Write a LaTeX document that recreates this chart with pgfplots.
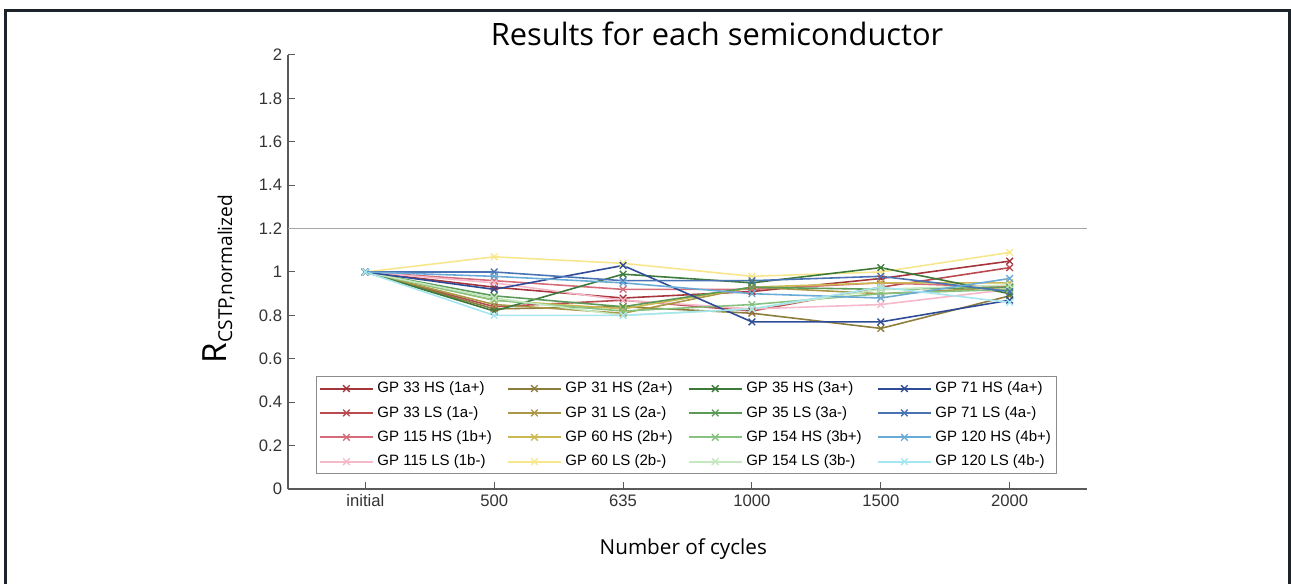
\documentclass[border=0pt]{standalone}
\usepackage{pgfplots}
\pgfplotsset{compat=1.18}
\usepackage{fontspec}
\setmainfont{Liberation Sans}
\newfontfamily\labelfont{Open Sans}

% series colours: red / olive / green / blue families, dark to light
\definecolor{r1}{HTML}{A4353B}
\definecolor{r2}{HTML}{B84A50}
\definecolor{r3}{HTML}{D46C7A}
\definecolor{r4}{HTML}{F6B9CA}
\definecolor{o1}{HTML}{8C7D3C}
\definecolor{o2}{HTML}{A99848}
\definecolor{o3}{HTML}{CDB952}
\definecolor{o4}{HTML}{F7E68C}
\definecolor{g1}{HTML}{3C7A3A}
\definecolor{g2}{HTML}{5C9A58}
\definecolor{g3}{HTML}{88C280}
\definecolor{g4}{HTML}{C6E8C0}
\definecolor{b1}{HTML}{2E4B96}
\definecolor{b2}{HTML}{4A73B3}
\definecolor{b3}{HTML}{6AAAD6}
\definecolor{b4}{HTML}{A6E6F0}
\definecolor{frame}{HTML}{1C232B}
\definecolor{axcol}{HTML}{5A5A5A}

\pgfplotsset{
  ser/.style={color=#1, draw=#1, mark=x, mark size=2.8pt, line width=0.95pt,
    mark options={solid, draw=#1, line width=0.8pt}},
}

\begin{document}
\begin{tikzpicture}
% 1 px of the reference = 0.6pt
% outer frame
\draw[frame, line width=1.8pt] (3pt,-12pt) -- (3pt,343.8pt) -- (773.4pt,343.8pt) -- (773.4pt,-12pt);
% title and labels
\node[anchor=base] at (430.2pt,323pt) {\labelfont\fontsize{18.5}{21}\selectfont Results for each semiconductor};
\node[anchor=base] at (410pt,17.4pt) {\labelfont\fontsize{12.4}{15}\selectfont Number of cycles};
\node[rotate=90, anchor=base] at (135.6pt,183pt) {\labelfont\fontsize{20}{22}\selectfont R\raisebox{-0.35ex}{\fontsize{11.5}{13}\selectfont CSTP,normalized}};

\begin{axis}[
  at={(172.8pt,57pt)}, anchor=south west,
  scale only axis, width=479.4pt, height=260.4pt,
  xmin=-0.6, xmax=5.6, ymin=0, ymax=2,
  xtick={0,1,2,3,4,5},
  xticklabels={initial,500,635,1000,1500,2000},
  ytick={0,0.2,0.4,0.6,0.8,1,1.2,1.4,1.6,1.8,2},
  yticklabels={0,0.2,0.4,0.6,0.8,1,1.2,1.4,1.6,1.8,2},
  axis x line*=bottom, axis y line*=left,
  axis line style={-, axcol, line width=0.8pt},
  tick align=inside, major tick length=4.2pt,
  tick style={axcol, line width=0.6pt},
  tick label style={font=\fontsize{10}{12}\selectfont, text=black!80},
  /pgf/number format/assume math mode=true,
  clip=false,
  legend columns=4, transpose legend,
  legend cell align=left,
  legend image code/.code={\draw[mark repeat=2,mark phase=2,#1,line width=1.2pt]
    plot coordinates {(0pt,0pt) (16pt,0pt) (32pt,0pt)};},
  legend style={name=leg, at={(rel axis cs:0.036,0.036)}, anchor=south west,
    draw=none,
    font=\fontsize{9}{10}\selectfont,
    inner xsep=1pt, inner ysep=0.3pt, row sep=1.6pt,
    nodes={inner ysep=2.5pt, inner xsep=2pt},
    /tikz/every even column/.append style={column sep=7pt}},
]
% reference line at 1.2
\addplot[gray!70, line width=0.7pt, forget plot] coordinates {(-0.6,1.2) (5.6,1.2)};

\addplot[ser=r1] coordinates {(0,1.00) (1,0.93) (2,0.88) (3,0.91) (4,0.97) (5,1.05)};
\addlegendentry{GP 33 HS (1a+)}
\addplot[ser=r2] coordinates {(0,1.00) (1,0.84) (2,0.87) (3,0.82) (4,0.93) (5,1.02)};
\addlegendentry{GP 33 LS (1a-)}
\addplot[ser=r3] coordinates {(0,1.00) (1,0.96) (2,0.92) (3,0.92) (4,0.95) (5,0.93)};
\addlegendentry{GP 115 HS (1b+)}
\addplot[ser=r4] coordinates {(0,1.00) (1,0.95) (2,0.87) (3,0.83) (4,0.85) (5,0.92)};
\addlegendentry{GP 115 LS (1b-)}

\addplot[ser=o1] coordinates {(0,1.00) (1,0.83) (2,0.84) (3,0.81) (4,0.74) (5,0.89)};
\addlegendentry{GP 31 HS (2a+)}
\addplot[ser=o2] coordinates {(0,1.00) (1,0.85) (2,0.81) (3,0.93) (4,0.90) (5,0.93)};
\addlegendentry{GP 31 LS (2a-)}
\addplot[ser=o3] coordinates {(0,1.00) (1,0.87) (2,0.83) (3,0.93) (4,0.95) (5,0.95)};
\addlegendentry{GP 60 HS (2b+)}
\addplot[ser=o4] coordinates {(0,1.00) (1,1.07) (2,1.04) (3,0.98) (4,1.00) (5,1.09)};
\addlegendentry{GP 60 LS (2b-)}

\addplot[ser=g1] coordinates {(0,1.00) (1,0.82) (2,0.99) (3,0.95) (4,1.02) (5,0.90)};
\addlegendentry{GP 35 HS (3a+)}
\addplot[ser=g2] coordinates {(0,1.00) (1,0.89) (2,0.84) (3,0.93) (4,0.92) (5,0.93)};
\addlegendentry{GP 35 LS (3a-)}
\addplot[ser=g3] coordinates {(0,1.00) (1,0.87) (2,0.82) (3,0.85) (4,0.90) (5,0.92)};
\addlegendentry{GP 154 HS (3b+)}
\addplot[ser=g4] coordinates {(0,1.00) (1,0.88) (2,0.80) (3,0.83) (4,0.92) (5,0.94)};
\addlegendentry{GP 154 LS (3b-)}

\addplot[ser=b1] coordinates {(0,1.00) (1,0.92) (2,1.03) (3,0.77) (4,0.77) (5,0.87)};
\addlegendentry{GP 71 HS (4a+)}
\addplot[ser=b2] coordinates {(0,1.00) (1,1.00) (2,0.96) (3,0.96) (4,0.98) (5,0.91)};
\addlegendentry{GP 71 LS (4a-)}
\addplot[ser=b3] coordinates {(0,1.00) (1,0.98) (2,0.95) (3,0.90) (4,0.88) (5,0.97)};
\addlegendentry{GP 120 HS (4b+)}
\addplot[ser=b4] coordinates {(0,1.00) (1,0.80) (2,0.80) (3,0.83) (4,0.93) (5,0.86)};
\addlegendentry{GP 120 LS (4b-)}
\end{axis}
% legend frame
\draw[black!45, line width=0.6pt] (leg.south west) rectangle (leg.north east);
\pgfresetboundingbox
\path[use as bounding box] (0pt,0pt) rectangle (774.6pt,350.4pt);
\end{tikzpicture}
\end{document}
